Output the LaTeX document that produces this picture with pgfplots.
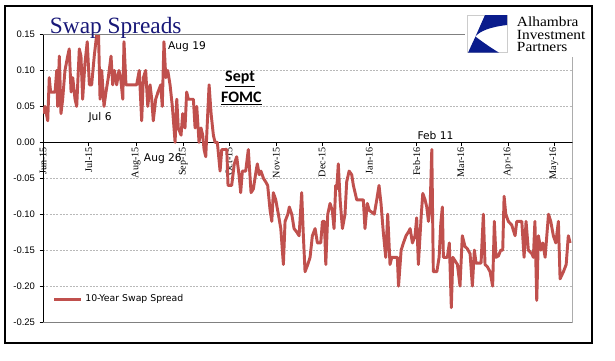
\documentclass[border=0pt]{standalone}
\usepackage{fontspec}
\setmainfont{Liberation Serif}
\newfontfamily\lsans{Liberation Sans}
\newfontfamily\dvs{DejaVu Sans}
\newfontfamily\carl{Carlito}
\usepackage{pgfplots}
\pgfplotsset{compat=1.18}
\definecolor{excelred}{RGB}{192,80,77}
\definecolor{titleblue}{RGB}{24,24,120}
\definecolor{logoblue}{RGB}{10,28,140}
\begin{document}
\begin{tikzpicture}
\path[use as bounding box] (0,0) rectangle (461.25pt,-270.75pt);
\fill[white] (0,0) rectangle (461.25pt,-270.75pt);
\begin{axis}[
  at={(32.25pt,-241.5pt)}, anchor=south west,
  scale only axis, width=397.3pt, height=215.6pt,
  xmin=0, xmax=347.3, ymin=-0.25, ymax=0.15,
  axis x line=middle, axis y line=left,
  axis line style={-, black, line width=0.5pt},
  hide obscured x ticks=false, hide obscured y ticks=false,
  xtick={0,30,61,92,122,153,183,214,245,274,305,335},
  xticklabels={Jun-15,Jul-15,Aug-15,Sep-15,Oct-15,Nov-15,Dec-15,Jan-16,Feb-16,Mar-16,Apr-16,May-16},
  x tick label style={font=\fontsize{7.6}{8}\selectfont, rotate=90, anchor=east, inner sep=1pt},
  ytick={-0.25,-0.20,-0.15,-0.10,-0.05,0,0.05,0.10,0.15},
  y tick label style={font=\lsans\fontsize{7.1}{8}\selectfont, /pgf/number format/.cd, fixed, fixed zerofill, precision=2, assume math mode=true},
  tick align=outside, major tick length=2.5pt, tick style={black, line width=0.5pt},
  ymajorgrids, grid style={gray!55, dash pattern=on 1.5pt off 1pt, line width=0.4pt},
  legend style={at={(rel axis cs:0.0183,0.079)}, anchor=west, draw=none, fill=none, inner sep=0pt, font=\dvs\fontsize{7}{8}\selectfont},
  legend cell align=left,
  legend image code/.code={\draw[#1, line width=2.3pt] (0pt,0pt) -- (20pt,0pt);},
]
\addplot[excelred, line width=2.2pt, line join=round] coordinates {
(0.2,0.04)(1.3,0.05)(3.1,0.03)(4.1,0.09)(5.0,0.07)(7.9,0.07)(9.0,0.10)(9.6,0.05)(10.7,0.12)(11.8,0.04)
(12.9,0.06)(14.4,0.10)(16.2,0.12)(17.2,0.13)(18.4,0.07)(19.5,0.09)(21.0,0.06)(22.1,0.05)(23.8,0.13)(24.9,0.12)
(26.0,0.06)(27.5,0.11)(29.0,0.14)(30.4,0.08)(31.9,0.08)(33.6,0.12)(35.2,0.15)(36.3,0.16)(37.4,0.06)(38.5,0.10)
(40.0,0.05)(41.3,0.07)(42.8,0.09)(44.6,0.12)(45.7,0.08)(46.8,0.10)(48.3,0.08)(49.8,0.10)(50.9,0.09)(52.3,0.06)
(53.1,0.14)(54.4,0.08)(61.4,0.08)(63.1,0.10)(64.7,0.03)(65.8,0.09)(67.3,0.10)(68.7,0.05)(70.2,0.08)(71.3,0.06)
(72.3,0.03)(73.9,0.06)(75.4,0.07)(77.2,0.08)(78.2,0.05)(79.3,0.14)(80.5,0.09)(81.8,0.10)(83.3,0.08)(84.8,0.05)
(86.6,0.00)(87.7,0.06)(88.7,0.02)(90.5,0.01)(91.6,0.04)(93.1,0.02)(94.2,0.07)(95.3,0.06)(96.9,0.06)(98.6,0.06)
(99.7,0.02)(100.8,0.05)(102.3,0.00)(103.6,0.02)(104.7,0.01)(105.6,-0.01)(106.7,-0.02)(108.0,0.04)(108.9,0.08)(110.2,0.04)
(111.7,0.01)(112.8,0.00)(114.3,0.00)(116.1,-0.04)(117.2,-0.01)(118.7,-0.01)(120.5,-0.01)(121.3,-0.06)(123.7,-0.06)(125.4,-0.03)
(127.0,-0.02)(128.5,-0.045)(129.6,-0.07)(130.7,-0.04)(132.9,-0.04)(134.6,-0.01)(136.4,-0.07)(137.9,-0.065)(139.7,-0.04)(140.5,-0.03)
(141.8,-0.045)(142.9,-0.04)(144.5,-0.05)(146.0,-0.055)(147.3,-0.06)(148.9,-0.095)(150.0,-0.11)(151.0,-0.07)(152.6,-0.08)(154.3,-0.10)
(155.9,-0.12)(157.6,-0.17)(158.7,-0.11)(160.5,-0.10)(161.5,-0.09)(163.1,-0.10)(164.6,-0.12)(166.4,-0.125)(167.9,-0.13)(169.6,-0.07)
(170.7,-0.13)(171.8,-0.18)(173.6,-0.17)(175.1,-0.16)(176.6,-0.13)(178.4,-0.12)(179.9,-0.14)(182.1,-0.14)(183.2,-0.11)(184.5,-0.11)
(185.4,-0.17)(186.7,-0.10)(188.2,-0.085)(189.7,-0.095)(190.8,-0.12)(191.9,-0.06)(192.6,-0.065)(193.6,-0.03)(194.8,-0.08)(196.3,-0.12)
(198.0,-0.10)(199.1,-0.055)(200.7,-0.04)(202.4,-0.045)(203.5,-0.06)(204.6,-0.07)(205.7,-0.08)(210.0,-0.08)(211.1,-0.12)(212.6,-0.085)
(214.0,-0.095)(215.5,-0.097)(217.2,-0.10)(218.8,-0.08)(220.3,-0.06)(221.6,-0.085)(223.1,-0.125)(224.7,-0.16)(226.0,-0.10)(227.5,-0.17)
(228.7,-0.16)(232.3,-0.16)(233.1,-0.20)(234.8,-0.15)(236.3,-0.14)(238.0,-0.13)(239.5,-0.125)(240.7,-0.12)(242.2,-0.14)(243.9,-0.13)
(245.0,-0.105)(246.1,-0.17)(247.9,-0.104)(249.0,-0.071)(250.5,-0.08)(251.6,-0.09)(252.7,-0.11)(253.8,-0.09)(254.9,-0.01)(255.9,-0.18)
(258.2,-0.18)(259.7,-0.16)(260.8,-0.113)(261.8,-0.09)(262.5,-0.16)(265.1,-0.16)(266.4,-0.14)(267.7,-0.23)(268.7,-0.16)(270.2,-0.165)
(271.7,-0.17)(273.4,-0.20)(274.9,-0.13)(276.7,-0.145)(278.2,-0.148)(280.0,-0.155)(281.5,-0.20)(282.8,-0.15)(283.9,-0.168)(287.2,-0.168)
(288.7,-0.10)(289.8,-0.17)(291.3,-0.173)(293.1,-0.18)(294.8,-0.20)(295.9,-0.11)(297.0,-0.16)(298.6,-0.158)(300.1,-0.15)(301.4,-0.15)
(302.3,-0.075)(303.4,-0.10)(305.1,-0.11)(307.3,-0.115)(309.5,-0.13)(310.6,-0.11)(313.9,-0.11)(315.4,-0.16)(316.7,-0.11)(318.2,-0.15)
(320.5,-0.155)(321.5,-0.16)(322.5,-0.11)(323.7,-0.22)(324.8,-0.13)(326.4,-0.15)(327.7,-0.14)(329.2,-0.16)(331.4,-0.10)(332.9,-0.11)
(334.6,-0.13)(336.2,-0.14)(337.9,-0.11)(339.0,-0.19)(341.2,-0.18)(343.0,-0.17)(344.4,-0.13)(345.6,-0.14)
};
\addlegendentry{10-Year Swap Spread}
% plot-area border (gray)
\draw[gray, line width=0.6pt] (axis cs:0,0.15) -- (axis cs:276.7,0.15);
\draw[gray, line width=0.6pt] (axis cs:347.3,0.1187) -- (axis cs:347.3,-0.25) -- (axis cs:0,-0.25);
% annotations
\node[font=\dvs\fontsize{8}{9}\selectfont] at (axis cs:94.4,0.133) {Aug 19};
\node[font=\dvs\fontsize{8}{9}\selectfont] at (axis cs:37.4,0.035) {Jul 6};
\node[font=\dvs\fontsize{8}{9}\selectfont] at (axis cs:78.6,-0.023) {Aug 26};
\node[font=\dvs\fontsize{8}{9}\selectfont] at (axis cs:257.3,0.0088) {Feb 11};
\node[font=\carl\bfseries\fontsize{12}{13}\selectfont] at (axis cs:129.2,0.088) {\underline{Sept}};
\node[font=\carl\bfseries\fontsize{12}{13}\selectfont] at (axis cs:130,0.061) {\underline{FOMC}};
\end{axis}
% outer frame
\draw[black, line width=0.9pt] (3.75pt,-4.5pt) rectangle (444pt,-257.25pt);
% title
\node[anchor=base west, inner sep=0pt, outer sep=0pt, text=titleblue, font=\fontsize{17.5}{18}\selectfont] at (37.5pt,-24.8pt) {Swap Spreads};
% logo
\fill[white] (349pt,-9pt) rectangle (440pt,-42pt);
\draw[gray!40, line width=0.6pt, fill=white] (350.25pt,-11.25pt) rectangle (380.25pt,-39.5pt);
\fill[logoblue] (363.75pt,-11.25pt) -- (380.25pt,-11.25pt) -- (380.25pt,-18.75pt)
   .. controls (367.5pt,-20.25pt) and (360pt,-23.25pt) .. (356.6pt,-27.4pt) -- cycle;
\fill[logoblue] (356.6pt,-27.4pt) -- (351pt,-39.5pt) -- (374.25pt,-39.5pt)
   .. controls (366pt,-34.5pt) and (360pt,-30pt) .. (356.6pt,-27.4pt) -- cycle;
\node[anchor=base west, inner sep=0pt, font=\fontsize{10.5}{11}\selectfont, xscale=1.1] at (387.5pt,-20pt) {Alhambra};
\node[anchor=base west, inner sep=0pt, font=\fontsize{10.5}{11}\selectfont, xscale=1.1] at (387.5pt,-29.5pt) {Investment};
\node[anchor=base west, inner sep=0pt, font=\fontsize{10.5}{11}\selectfont, xscale=1.1] at (387.5pt,-38.8pt) {Partners};
\end{tikzpicture}
\end{document}
